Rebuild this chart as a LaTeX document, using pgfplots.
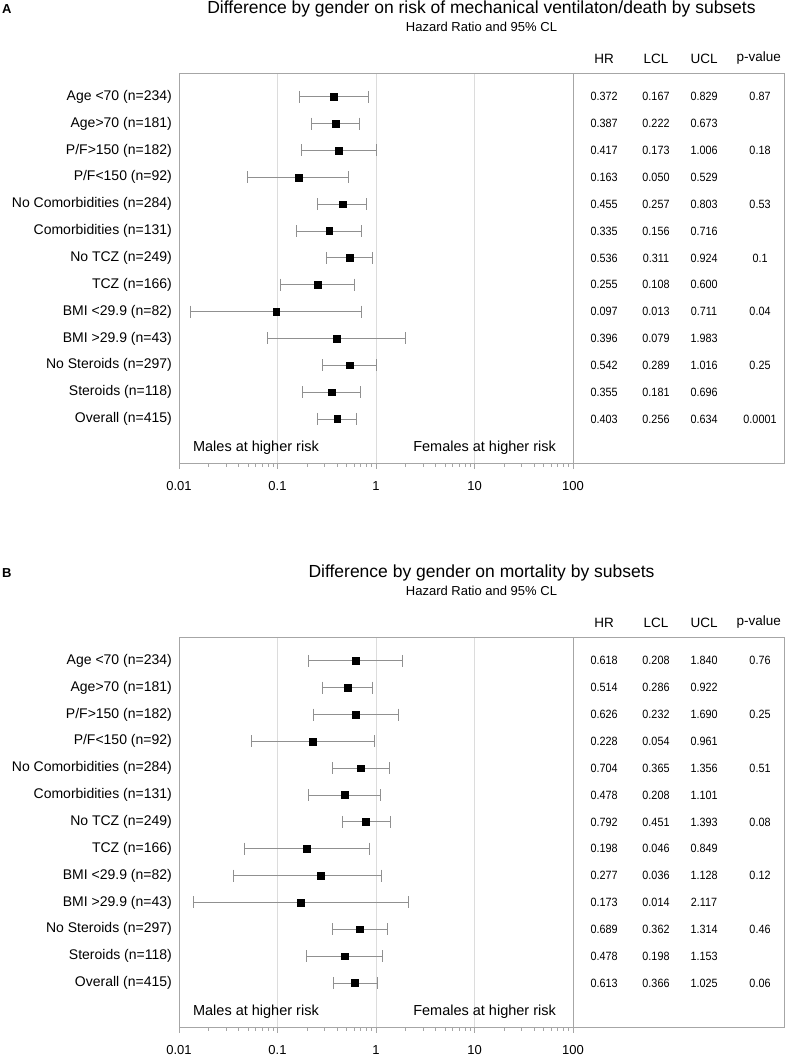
\documentclass[border=0pt]{standalone}
\usepackage{pgfplots}
\pgfplotsset{compat=1.18}
\usepackage{pgfplotstable}
\usepackage{fontspec}
\setmainfont{Liberation Sans}
\newfontfamily\numfont[FakeStretch=0.9]{Liberation Sans}
\definecolor{framegray}{HTML}{A6A6A6}
\definecolor{gridgray}{HTML}{DCDCDC}
\definecolor{bargray}{HTML}{909090}

% rows numbered from the bottom (Overall = 1) to the top (Age <70 = 13)
\pgfplotstableread{
row HR LCL UCL
13 0.372 0.167 0.829
12 0.387 0.222 0.673
11 0.417 0.173 1.006
10 0.163 0.050 0.529
9 0.455 0.257 0.803
8 0.335 0.156 0.716
7 0.536 0.311 0.924
6 0.255 0.108 0.600
5 0.097 0.013 0.711
4 0.396 0.079 1.983
3 0.542 0.289 1.016
2 0.355 0.181 0.696
1 0.403 0.256 0.634
}\dataA
\pgfplotstableread{
x y
0.167 13
0.829 13
nan nan
0.222 12
0.673 12
nan nan
0.173 11
1.006 11
nan nan
0.050 10
0.529 10
nan nan
0.257 9
0.803 9
nan nan
0.156 8
0.716 8
nan nan
0.311 7
0.924 7
nan nan
0.108 6
0.600 6
nan nan
0.013 5
0.711 5
nan nan
0.079 4
1.983 4
nan nan
0.289 3
1.016 3
nan nan
0.181 2
0.696 2
nan nan
0.256 1
0.634 1
}\ciA
\pgfplotstableread{
row p
13 0.87
11 0.18
9 0.53
7 0.1
5 0.04
3 0.25
1 0.0001
}\pA
\pgfplotstableread{
row HR LCL UCL
13 0.618 0.208 1.840
12 0.514 0.286 0.922
11 0.626 0.232 1.690
10 0.228 0.054 0.961
9 0.704 0.365 1.356
8 0.478 0.208 1.101
7 0.792 0.451 1.393
6 0.198 0.046 0.849
5 0.277 0.036 1.128
4 0.173 0.014 2.117
3 0.689 0.362 1.314
2 0.478 0.198 1.153
1 0.613 0.366 1.025
}\dataB
\pgfplotstableread{
x y
0.208 13
1.840 13
nan nan
0.286 12
0.922 12
nan nan
0.232 11
1.690 11
nan nan
0.054 10
0.961 10
nan nan
0.365 9
1.356 9
nan nan
0.208 8
1.101 8
nan nan
0.451 7
1.393 7
nan nan
0.046 6
0.849 6
nan nan
0.036 5
1.128 5
nan nan
0.014 4
2.117 4
nan nan
0.362 3
1.314 3
nan nan
0.198 2
1.153 2
nan nan
0.366 1
1.025 1
}\ciB
\pgfplotstableread{
row p
13 0.76
11 0.25
9 0.51
7 0.08
5 0.12
3 0.46
1 0.06
}\pB

\begin{document}
\begin{tikzpicture}
\path[use as bounding box] (0pt,0pt) rectangle (788pt,1055pt);

% ---------------- Panel A ----------------
\node[font=\bfseries\fontsize{13}{15}\selectfont, anchor=west, inner sep=0pt] at (2pt,1046pt) {A};
\node[font=\fontsize{17.5}{20}\selectfont] at (481.5pt,1046pt) {Difference by gender on risk of mechanical ventilaton/death by subsets};
\node[font=\fontsize{13}{15}\selectfont] at (481.5pt,1028pt) {Hazard Ratio and 95\% CL};
\begin{axis}[at={(179pt,592pt)}, anchor=south west,
    scale only axis, width=605pt, height=390pt,
    xmode=log, xmin=0.01, xmax=13870,
    ymin=-0.64, ymax=13.887,
    clip=false, unbounded coords=jump,
    axis line style={framegray, line width=0.8pt},
    xtick={0.01,0.1,1,10,100},
    xticklabels={0.01,0.1,1,10,100},
    minor xtick={0.02,0.03,0.04,0.05,0.06,0.07,0.08,0.09,0.2,0.3,0.4,0.5,0.6,0.7,0.8,0.9,2,3,4,5,6,7,8,9,20,30,40,50,60,70,80,90},
    xtick pos=left, tick align=outside,
    major tick length=6pt, minor tick length=4pt,
    tick style={framegray, line width=0.6pt},
    xmajorgrids, major grid style={gridgray, line width=0.8pt},
    xticklabel style={font=\fontsize{13}{15}\selectfont, inner sep=1pt, yshift=-11pt},
    ytick={1,...,13},
    yticklabels={Overall (n=415), Steroids (n=118), No Steroids (n=297), BMI >29.9 (n=43), BMI <29.9 (n=82), TCZ (n=166), No TCZ (n=249), Comorbidities (n=131), No Comorbidities (n=284), P/F<150 (n=92), P/F>150 (n=182), Age>70 (n=181), Age <70 (n=234)},
    ytick pos=left, ytick style={draw=none},
    yticklabel style={font=\fontsize{14}{16}\selectfont, inner sep=0pt, xshift=-1pt},
    nodes near coords style={font=\numfont\fontsize{12}{14}\selectfont, anchor=center, text=black, inner sep=0pt},
]
\addplot[framegray, line width=0.8pt] coordinates {(100,-0.64) (100,13.887)};
\addplot[bargray, line width=0.8pt, mark=|, mark size=6pt] table[x=x, y=y] {\ciA};
\addplot[only marks, mark=square*, mark size=3.4pt, black] table[x=HR, y=row] {\dataA};
\addplot[only marks, mark=*, mark size=0pt, mark options={draw=none, fill=none}, nodes near coords, point meta=explicit symbolic] table[x expr=206.5, y=row, meta=HR] {\dataA};
\addplot[only marks, mark=*, mark size=0pt, mark options={draw=none, fill=none}, nodes near coords, point meta=explicit symbolic] table[x expr=696, y=row, meta=LCL] {\dataA};
\addplot[only marks, mark=*, mark size=0pt, mark options={draw=none, fill=none}, nodes near coords, point meta=explicit symbolic] table[x expr=2138, y=row, meta=UCL] {\dataA};
\addplot[only marks, mark=*, mark size=0pt, mark options={draw=none, fill=none}, nodes near coords, point meta=explicit symbolic] table[x expr=7916, y=row, meta=p] {\pA};
\node[font=\fontsize{13.5}{15}\selectfont] at (axis cs:206.5,14.43) {HR};
\node[font=\fontsize{13.5}{15}\selectfont] at (axis cs:696,14.43) {LCL};
\node[font=\fontsize{13.5}{15}\selectfont] at (axis cs:2138,14.43) {UCL};
\node[font=\fontsize{13.5}{15}\selectfont] at (axis cs:7700,14.43) {p-value};
\node[anchor=west, font=\fontsize{14.5}{16}\selectfont] at (axis cs:0.0128,-0.08) {Males at higher risk};
\node[anchor=west, font=\fontsize{14.5}{16}\selectfont] at (axis cs:2.2,-0.08) {Females at higher risk};
\end{axis}

% ---------------- Panel B ----------------
\node[font=\bfseries\fontsize{13}{15}\selectfont, anchor=west, inner sep=0pt] at (2pt,482pt) {B};
\node[font=\fontsize{17.5}{20}\selectfont] at (481.5pt,482pt) {Difference by gender on mortality by subsets};
\node[font=\fontsize{13}{15}\selectfont] at (481.5pt,464pt) {Hazard Ratio and 95\% CL};
\begin{axis}[at={(179pt,28pt)}, anchor=south west,
    scale only axis, width=605pt, height=390pt,
    xmode=log, xmin=0.01, xmax=13870,
    ymin=-0.64, ymax=13.887,
    clip=false, unbounded coords=jump,
    axis line style={framegray, line width=0.8pt},
    xtick={0.01,0.1,1,10,100},
    xticklabels={0.01,0.1,1,10,100},
    minor xtick={0.02,0.03,0.04,0.05,0.06,0.07,0.08,0.09,0.2,0.3,0.4,0.5,0.6,0.7,0.8,0.9,2,3,4,5,6,7,8,9,20,30,40,50,60,70,80,90},
    xtick pos=left, tick align=outside,
    major tick length=6pt, minor tick length=4pt,
    tick style={framegray, line width=0.6pt},
    xmajorgrids, major grid style={gridgray, line width=0.8pt},
    xticklabel style={font=\fontsize{13}{15}\selectfont, inner sep=1pt, yshift=-11pt},
    ytick={1,...,13},
    yticklabels={Overall (n=415), Steroids (n=118), No Steroids (n=297), BMI >29.9 (n=43), BMI <29.9 (n=82), TCZ (n=166), No TCZ (n=249), Comorbidities (n=131), No Comorbidities (n=284), P/F<150 (n=92), P/F>150 (n=182), Age>70 (n=181), Age <70 (n=234)},
    ytick pos=left, ytick style={draw=none},
    yticklabel style={font=\fontsize{14}{16}\selectfont, inner sep=0pt, xshift=-1pt},
    nodes near coords style={font=\numfont\fontsize{12}{14}\selectfont, anchor=center, text=black, inner sep=0pt},
]
\addplot[framegray, line width=0.8pt] coordinates {(100,-0.64) (100,13.887)};
\addplot[bargray, line width=0.8pt, mark=|, mark size=6pt] table[x=x, y=y] {\ciB};
\addplot[only marks, mark=square*, mark size=3.4pt, black] table[x=HR, y=row] {\dataB};
\addplot[only marks, mark=*, mark size=0pt, mark options={draw=none, fill=none}, nodes near coords, point meta=explicit symbolic] table[x expr=206.5, y=row, meta=HR] {\dataB};
\addplot[only marks, mark=*, mark size=0pt, mark options={draw=none, fill=none}, nodes near coords, point meta=explicit symbolic] table[x expr=696, y=row, meta=LCL] {\dataB};
\addplot[only marks, mark=*, mark size=0pt, mark options={draw=none, fill=none}, nodes near coords, point meta=explicit symbolic] table[x expr=2138, y=row, meta=UCL] {\dataB};
\addplot[only marks, mark=*, mark size=0pt, mark options={draw=none, fill=none}, nodes near coords, point meta=explicit symbolic] table[x expr=7916, y=row, meta=p] {\pB};
\node[font=\fontsize{13.5}{15}\selectfont] at (axis cs:206.5,14.43) {HR};
\node[font=\fontsize{13.5}{15}\selectfont] at (axis cs:696,14.43) {LCL};
\node[font=\fontsize{13.5}{15}\selectfont] at (axis cs:2138,14.43) {UCL};
\node[font=\fontsize{13.5}{15}\selectfont] at (axis cs:7700,14.43) {p-value};
\node[anchor=west, font=\fontsize{14.5}{16}\selectfont] at (axis cs:0.0128,-0.08) {Males at higher risk};
\node[anchor=west, font=\fontsize{14.5}{16}\selectfont] at (axis cs:2.2,-0.08) {Females at higher risk};
\end{axis}
\end{tikzpicture}
\end{document}
